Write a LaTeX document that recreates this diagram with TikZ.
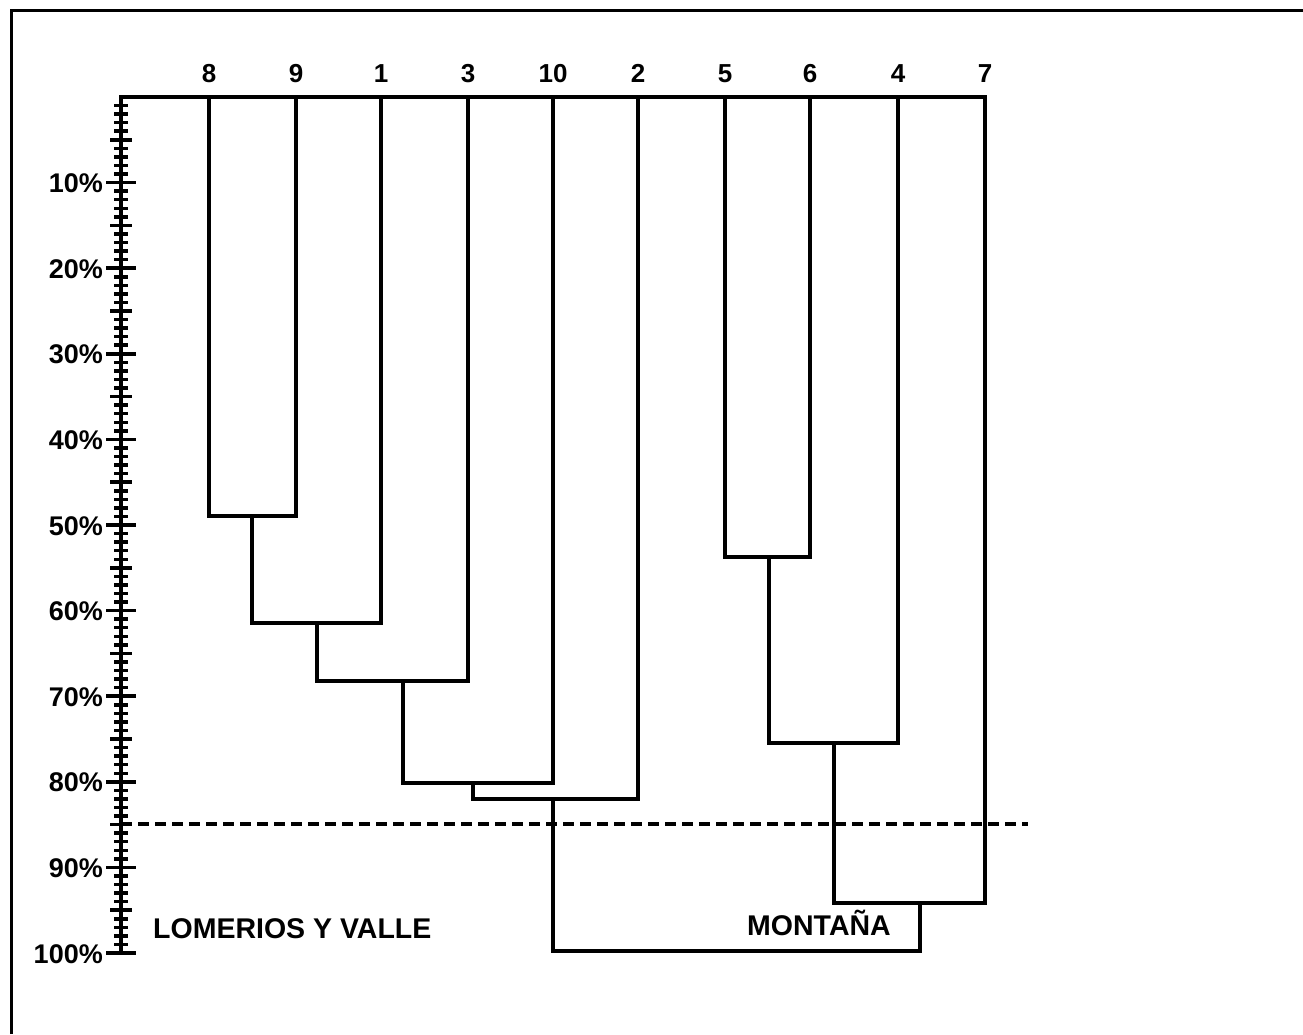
\documentclass[tikz,border=0pt]{standalone}
\usepackage{fontspec}
\setmainfont{Liberation Sans}
\begin{document}
\begin{tikzpicture}[x=1pt,y=-1pt,
  link/.style={line width=4pt,line join=miter,line cap=rect},
  axisline/.style={line width=4pt,line cap=rect},
  minortick/.style={line width=3.5pt},
  leaflbl/.style={font=\bfseries\fontsize{26}{26}\selectfont,inner sep=0pt,anchor=base},
  pctlbl/.style={font=\bfseries\fontsize{27}{27}\selectfont,inner sep=0pt,anchor=base east},
  grouplbl/.style={font=\bfseries\fontsize{28.5}{28.5}\selectfont,inner sep=0pt,anchor=base west},
  cutline/.style={line width=4pt,dash pattern=on 11pt off 6pt}]
\useasboundingbox (0,0) rectangle (1303,1034);
% frame
\draw[line width=3pt] (11,1034) -- (11,10) -- (1303,10);
% leaf positions on the top axis
\foreach \n/\x in {8/209,9/296,1/381,3/468,10/553,2/638,5/725,6/810,4/898,7/985}{
  \coordinate (lf\n) at (\x,97);
  \node[leaflbl] (n\n) at (\x,82) {\n};
}
% axes
\coordinate (ax0) at (121,97);
\coordinate (ax100) at (121,953);
\coordinate (axr) at (985,97);
\draw[axisline] (ax100) -- (ax0) -- (axr);
\foreach \i in {1,...,99}{
  \pgfmathsetmacro{\yy}{97+8.56*\i}
  \draw[minortick] (114,\yy) -- (128,\yy);
}
\foreach \i in {5,15,...,95}{
  \pgfmathsetmacro{\yy}{97+8.56*\i}
  \draw[minortick] (110,\yy) -- (132,\yy);
}
\foreach \i in {1,...,10}{
  \pgfmathsetmacro{\yy}{97+85.6*\i}
  \draw[line width=3.5pt] (106,\yy) -- (136,\yy);
  \pgfmathsetmacro{\yb}{\yy+10}
  \pgfmathtruncatemacro{\pc}{10*\i}
  \node[pctlbl] (p\i) at (103,\yb) {\pc\%};
}
% merge points
\coordinate (m89) at (252,516);
\coordinate (m891) at (317,623);
\coordinate (m3) at (403,681);
\coordinate (m10) at (473,783);
\coordinate (m2) at (553,799);
\coordinate (m56) at (769,557);
\coordinate (m4) at (834,743);
\coordinate (m7) at (920,903);
\coordinate (mroot) at (700,951);
% dendrogram
\draw[link] (lf8) |- (m89) -| (lf9);
\draw[link] (m89) |- (m891) -| (lf1);
\draw[link] (m891) |- (m3) -| (lf3);
\draw[link] (m3) |- (m10) -| (lf10);
\draw[link] (m10) |- (m2) -| (lf2);
\draw[link] (lf5) |- (m56) -| (lf6);
\draw[link] (m56) |- (m4) -| (lf4);
\draw[link] (m4) |- (m7) -| (lf7);
\draw[link] (m2) |- (mroot) -| (m7);
% cut line
\coordinate (cutl) at (121,824);
\coordinate (cutr) at (1028,824);
\draw[cutline] (cutl) -- (cutr);
% group labels
\node[grouplbl] (lv) at (153,938) {LOMERIOS Y VALLE};
\node[grouplbl] (mt) at (747,935) {MONTAÑA};
\end{tikzpicture}
\end{document}
